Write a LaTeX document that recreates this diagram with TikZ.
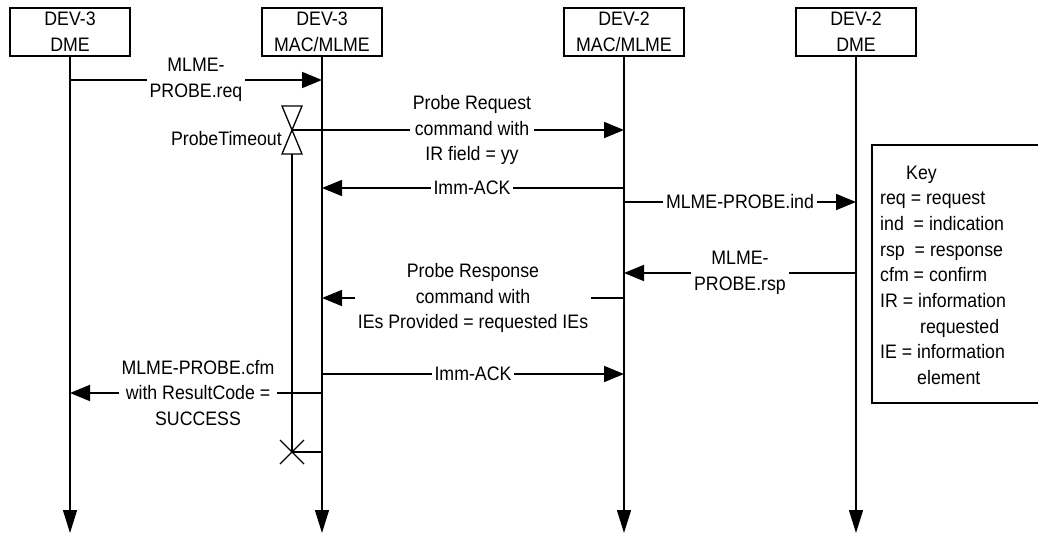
\documentclass[tikz,border=0pt]{standalone}
\usepackage{fontspec}
\setmainfont{Liberation Sans}[FakeStretch=0.91]
\usetikzlibrary{arrows.meta}
\begin{document}
\begin{tikzpicture}[x=1pt,y=-1pt,
 txt/.style={font=\fontsize{19.5}{25.7}\selectfont, inner sep=0pt},
 head/.style={txt, draw, line width=1.5pt, minimum width=120pt, minimum height=48pt, align=center},
 life/.style={line width=1.3pt, -{Triangle[length=23pt,width=14pt]}},
 msg/.style={line width=1.6pt, -{Triangle[length=20pt,width=16pt]}},
 plain/.style={line width=1.6pt},
 lbl/.style={txt, fill=white, inner xsep=3pt, align=center},
 keyt/.style={txt, anchor=base west},
]
\useasboundingbox (0,0) rectangle (1038,535);

% lifeline heads
\node[head] (h1) at (70,32) {DEV-3\\DME};
\node[head] (h2) at (322,32) {DEV-3\\MAC/MLME};
\node[head] (h3) at (624,32) {DEV-2\\MAC/MLME};
\node[head] (h4) at (856,32) {DEV-2\\DME};

% lifeline ends
\coordinate (e1) at (70,533);
\coordinate (e2) at (322,533);
\coordinate (e3) at (624,533);
\coordinate (e4) at (856,533);
\draw[life] (h1.south) -- (e1);
\draw[life] (h2.south) -- (e2);
\draw[life] (h3.south) -- (e3);
\draw[life] (h4.south) -- (e4);

% timer
\coordinate (tapex) at (292,130);
\coordinate (tbot) at (292,154);
\coordinate (tend) at (292,452);
\coordinate (tret) at (322,452);
\draw[plain, fill=white, line width=1.3pt] (282,106) -- (302,106) -- (tapex) -- cycle;
\draw[plain, fill=white, line width=1.3pt] (tapex) -- (282,154) -- (302,154) -- cycle;
\draw[line width=1.3pt] (tbot) -- (tend);
\draw[line width=1.3pt] (280,440) -- (304,464);
\draw[line width=1.3pt] (280,464) -- (304,440);
\draw[line width=1.3pt] (tend) -- (tret);
\node[txt, anchor=east] (pto) at (282,139) {ProbeTimeout};

% message endpoints
\coordinate (a1) at (70,80);   \coordinate (b1) at (322,80);
\coordinate (b2) at (624,130);
\coordinate (a3) at (624,188); \coordinate (b3) at (322,188);
\coordinate (a4) at (624,202); \coordinate (b4) at (856,202);
\coordinate (a5) at (856,273); \coordinate (b5) at (624,273);
\coordinate (a6) at (624,298); \coordinate (b6) at (322,298);
\coordinate (a7) at (322,374); \coordinate (b7) at (624,374);
\coordinate (a8) at (322,393); \coordinate (b8) at (70,393);

\draw[msg] (a1) -- (b1);
\draw[msg] (tapex) -- (b2);
\draw[msg] (a3) -- (b3);
\draw[msg] (a4) -- (b4);
\draw[msg] (a5) -- (b5);
\draw[msg] (a6) -- (b6);
\draw[msg] (a7) -- (b7);
\draw[msg] (a8) -- (b8);

\node[lbl] (l1) at (196,80) {MLME-\\PROBE.req};
\node[lbl] (l2) at (472,130) {Probe Request\\command with\\IR field = yy};
\node[lbl] (l3) at (472,188) {Imm-ACK};
\node[lbl] (l4) at (740,202) {MLME-PROBE.ind};
\node[lbl] (l5) at (740,273) {MLME-\\PROBE.rsp};
\node[lbl] (l6) at (473,298) {Probe Response\\command with\\IEs Provided = requested IEs};
\node[lbl] (l7) at (473,374) {Imm-ACK};
\node[lbl] (l8) at (198,393) {MLME-PROBE.cfm\\with ResultCode =\\SUCCESS};

% key
\draw[line width=1.5pt] (872,145) rectangle (1050,403);
\node[keyt] (k0) at (906,179) {Key};
\node[keyt] (k1) at (880,204.7) {req = request};
\node[keyt] (k2) at (880,230.4) {ind\ \ = indication};
\node[keyt] (k3) at (880,256.1) {rsp\ \ = response};
\node[keyt] (k4) at (880,281.8) {cfm = confirm};
\node[keyt] (k5) at (880,307.5) {IR = information};
\node[keyt] (k6) at (920,333.2) {requested};
\node[keyt] (k7) at (880,358.9) {IE = information};
\node[keyt] (k8) at (917,384.6) {element};
\end{tikzpicture}
\end{document}
